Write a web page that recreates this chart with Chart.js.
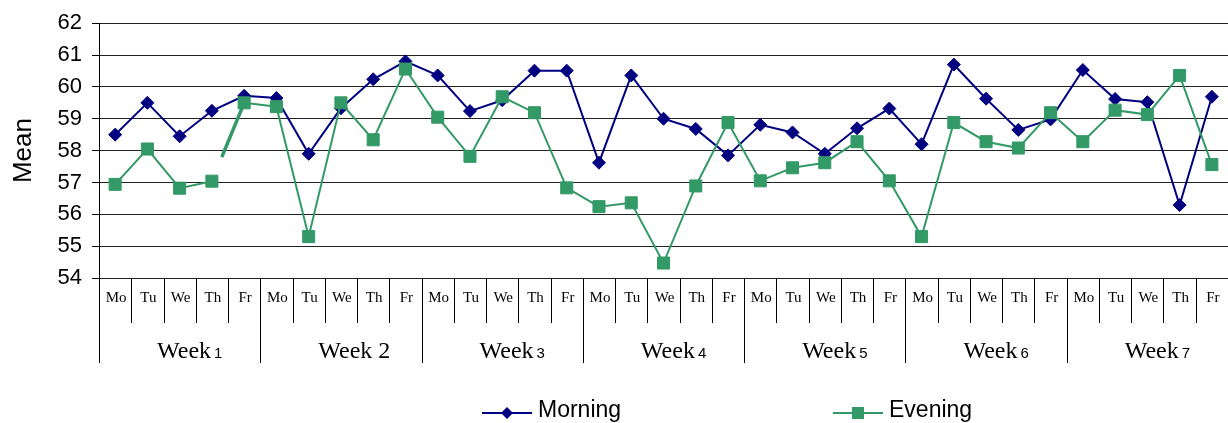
<!DOCTYPE html>
<html>
<head>
<meta charset="utf-8">
<script src="https://cdn.jsdelivr.net/npm/chart.js@4.4.1/dist/chart.umd.min.js"></script>
<style>
  html, body { margin: 0; padding: 0; background: #fff; }
  canvas { display: block; }
</style>
</head>
<body>
<canvas id="chart" width="1228" height="423"></canvas>
<script>
// Week and weekday labels for the two-level category axis
const weeks = ['1', '2', '3', '4', '5', '6', '7'];
const days = ['Mo', 'Tu', 'We', 'Th', 'Fr'];
const categories = weeks.flatMap(w => days.map(d => 'Week ' + w + ' ' + d));

// Mean score per session, Monday to Friday, weeks 1-7
const morning = [
  58.50, 59.50, 58.45, 59.25, 59.72,
  59.65, 57.90, 59.33, 60.24, 60.80,
  60.36, 59.24, 59.58, 60.51, 60.51,
  57.62, 60.36, 59.00, 58.68, 57.85,
  58.81, 58.57, 57.90, 58.70, 59.32,
  58.20, 60.70, 59.63, 58.65, 58.98,
  60.53, 59.62, 59.52, 56.29, 59.69
];
const evening = [
  56.94, 58.05, 56.82, 57.04, 59.50,
  59.38, 55.30, 59.50, 58.34, 60.56,
  59.05, 57.82, 59.69, 59.19, 56.83,
  56.24, 56.36, 54.47, 56.89, 58.88,
  57.05, 57.46, 57.62, 58.28, 57.05,
  55.30, 58.88, 58.28, 58.08, 59.19,
  58.28, 59.27, 59.13, 60.36, 57.56
];

// Value axis
const yMin = 54, yMax = 62, yStep = 1;

const NAVY = '#000080';
const GREEN = '#339966';
const SANS = '"Liberation Sans", Arial, sans-serif';
const SERIF = '"Liberation Serif", "Times New Roman", serif';

// Draws the weekday / week label grid under the plot and the legend
const weekDayAxis = {
  id: 'weekDayAxis',
  afterDraw(chart) {
    const ctx = chart.ctx;
    const x = chart.scales.x;
    const area = chart.chartArea;
    const step = x.getPixelForValue(1) - x.getPixelForValue(0);
    const base = area.bottom;

    ctx.save();
    ctx.strokeStyle = '#000';
    ctx.lineWidth = 1;
    ctx.fillStyle = '#000';

    for (let i = 0; i < categories.length; i++) {
      const edge = Math.round(x.getPixelForValue(i) - step / 2) + 0.5;
      const weekStart = i % days.length === 0;
      ctx.beginPath();
      ctx.moveTo(edge, base);
      ctx.lineTo(edge, weekStart ? 363 : 323);
      ctx.stroke();

      ctx.font = '15px ' + SERIF;
      ctx.textAlign = 'center';
      ctx.textBaseline = 'middle';
      ctx.fillText(days[i % days.length], x.getPixelForValue(i) + 1, 298);
    }

    weeks.forEach((w, k) => {
      const start = x.getPixelForValue(k * days.length) - step / 2;
      const tx = start + 58;
      ctx.textAlign = 'left';
      ctx.textBaseline = 'alphabetic';
      ctx.font = '24px ' + SERIF;
      ctx.fillText('Week', tx, 358);
      const ww = ctx.measureText('Week').width;
      if (w === '2') {
        ctx.font = '24px ' + SERIF;
        ctx.fillText(w, tx + ww + 6, 358);
      } else {
        ctx.font = '15px ' + SANS;
        ctx.fillText(w, tx + ww + 3, 358);
      }
    });

    // Legend
    const legendY = 413;
    const items = [
      { label: 'Morning', color: NAVY, shape: 'diamond', x0: 482 },
      { label: 'Evening', color: GREEN, shape: 'square', x0: 833 }
    ];
    items.forEach(it => {
      ctx.strokeStyle = it.color;
      ctx.lineWidth = 2;
      ctx.beginPath();
      ctx.moveTo(it.x0, legendY);
      ctx.lineTo(it.x0 + 50, legendY);
      ctx.stroke();
      const cx = it.x0 + 25;
      ctx.fillStyle = it.color;
      ctx.beginPath();
      if (it.shape === 'diamond') {
        ctx.moveTo(cx, legendY - 6);
        ctx.lineTo(cx + 6, legendY);
        ctx.lineTo(cx, legendY + 6);
        ctx.lineTo(cx - 6, legendY);
        ctx.closePath();
      } else {
        ctx.rect(cx - 6, legendY - 6, 12, 12);
      }
      ctx.fill();
      ctx.fillStyle = '#000';
      ctx.font = '23px ' + SANS;
      ctx.textAlign = 'left';
      ctx.textBaseline = 'alphabetic';
      ctx.fillText(it.label, it.x0 + 56, legendY + 4);
    });
    ctx.restore();
  }
};

new Chart(document.getElementById('chart'), {
  type: 'line',
  data: {
    labels: categories,
    datasets: [
      {
        label: 'Morning',
        data: morning,
        order: 2,
        borderColor: NAVY,
        backgroundColor: NAVY,
        borderWidth: 2,
        tension: 0,
        pointStyle: 'rectRot',
        pointRadius: 6.5,
        pointBorderWidth: 1,
        pointBackgroundColor: NAVY,
        pointBorderColor: NAVY
      },
      {
        label: 'Evening',
        data: evening,
        order: 1,
        borderColor: GREEN,
        backgroundColor: GREEN,
        borderWidth: 2,
        tension: 0,
        pointStyle: 'rect',
        pointRadius: 8.5,
        pointBorderWidth: 1,
        pointBackgroundColor: GREEN,
        pointBorderColor: GREEN,
        segment: {
          borderWidth: c => (c.p0DataIndex === 3 ? 3.5 : undefined),
          borderDash: c => (c.p0DataIndex === 3 ? [0, 26, 200] : undefined)
        }
      }
    ]
  },
  options: {
    responsive: false,
    animation: false,
    devicePixelRatio: 1,
    layout: {
      autoPadding: false,
      padding: { top: 21, right: -4, bottom: 145, left: 0 }
    },
    plugins: {
      legend: { display: false },
      tooltip: { enabled: false }
    },
    scales: {
      x: {
        display: false,
        offset: true
      },
      y: {
        min: yMin,
        max: yMax,
        afterFit: s => { s.width = 99; },
        ticks: {
          stepSize: yStep,
          color: '#000',
          padding: 10,
          font: { family: SANS, size: 22 }
        },
        grid: {
          color: '#222',
          lineWidth: 1,
          drawTicks: true,
          tickLength: 7,
          tickColor: '#000'
        },
        border: { display: true, color: '#000', width: 1 },
        title: {
          display: true,
          text: 'Mean',
          color: '#000',
          padding: { top: 8, bottom: 0 },
          font: { family: SANS, size: 26 }
        }
      }
    }
  },
  plugins: [weekDayAxis]
});
</script>
</body>
</html>
